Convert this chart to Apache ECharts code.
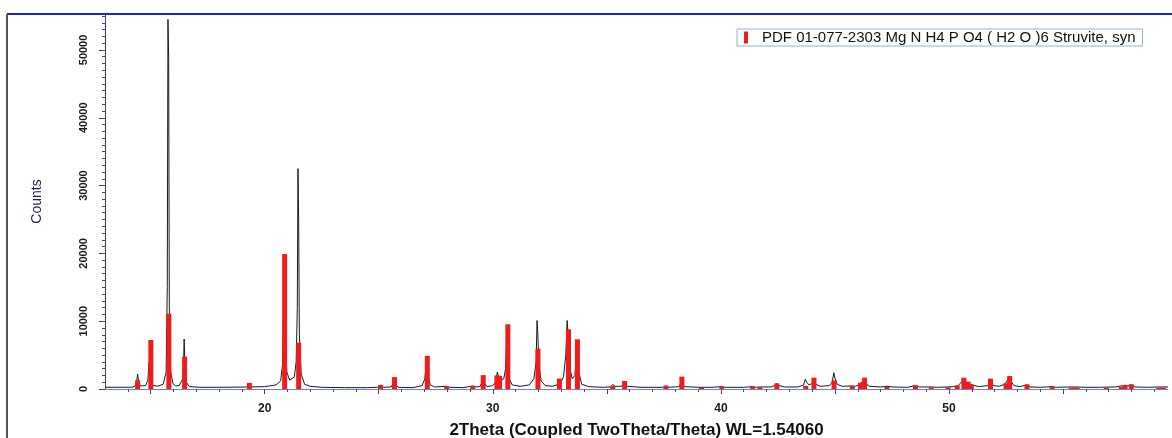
<!DOCTYPE html>
<html>
<head>
<meta charset="utf-8">
<script src="https://cdn.jsdelivr.net/npm/echarts@6/dist/echarts.min.js"></script>
<style>
  html, body { margin: 0; padding: 0; background: #ffffff; }
  #chart { width: 1172px; height: 438px; }
</style>
</head>
<body>
<div id="chart"></div>
<script>
// ---- Data ----
// Measured XRD pattern (2Theta in degrees, counts)
const measuredPattern = [
  [13.0, 260], [13.6, 250], [14.2, 260],
  [14.32, 450], [14.39, 1100], [14.43, 2200], [14.47, 1100], [14.55, 450],
  [14.78, 500], [14.88, 1300], [14.93, 3900], [14.97, 1800], [15.05, 600], [15.3, 400], [15.55, 700],
  [15.68, 2500], [15.73, 15000], [15.76, 54500], [15.79, 49000], [15.82, 12000], [15.88, 2500], [15.98, 800], [16.1, 450], [16.25, 500],
  [16.32, 500], [16.41, 1500], [16.45, 4500], [16.47, 7370], [16.50, 4000], [16.56, 1000], [16.7, 350], [17.2, 250], [18.0, 250], [19.0, 280],
  [19.25, 300], [19.33, 450], [19.42, 300], [20.0, 350], [20.5, 600],
  [20.7, 1200], [20.78, 3500], [20.83, 12000], [20.86, 17000], [20.9, 8000], [20.97, 2500], [21.1, 1300], [21.3, 1800],
  [21.38, 4000], [21.43, 12000], [21.46, 32500], [21.49, 25000], [21.52, 8000], [21.6, 2200], [21.75, 700], [22.0, 400], [22.5, 250], [23.5, 200], [24.5, 200],
  [24.95, 250], [25.08, 550], [25.2, 250],
  [25.55, 300], [25.65, 900], [25.69, 1400], [25.74, 700], [25.85, 250], [26.5, 200],
  [26.9, 500], [27.02, 1500], [27.09, 3800], [27.12, 4300], [27.16, 2000], [27.26, 600], [27.45, 300],
  [27.98, 400], [28.1, 250], [28.7, 200], [29.12, 450], [29.3, 300],
  [29.45, 400], [29.55, 1200], [29.58, 1800], [29.63, 900], [29.75, 350], [30.0, 500],
  [30.12, 1000], [30.2, 2500], [30.25, 1800], [30.35, 1300], [30.48, 1500],
  [30.56, 3000], [30.62, 8000], [30.66, 6000], [30.72, 1500], [30.85, 600], [31.2, 400], [31.6, 600],
  [31.8, 1500], [31.9, 4000], [31.94, 10100], [31.97, 8500], [32.02, 3500], [32.12, 1200], [32.3, 500], [32.6, 400],
  [32.82, 600], [32.9, 1200], [32.96, 800], [33.1, 1800],
  [33.2, 5000], [33.26, 10100], [33.3, 8000], [33.36, 3500], [33.48, 1500], [33.6, 2000], [33.68, 5500], [33.72, 6000], [33.77, 2500], [33.9, 700], [34.2, 350], [34.8, 250],
  [35.15, 300], [35.26, 650], [35.36, 400],
  [35.65, 400], [35.75, 900], [35.8, 1000], [35.9, 400], [36.5, 250],
  [37.45, 250], [37.59, 450], [37.72, 250],
  [38.18, 350], [38.27, 1100], [38.31, 1200], [38.4, 350], [39.0, 250], [39.6, 250],
  [40.04, 350], [40.2, 250], [41.0, 250], [41.39, 350], [41.55, 250], [41.71, 300], [42.2, 300],
  [42.35, 500], [42.45, 800], [42.55, 500], [42.8, 300], [43.4, 300],
  [43.62, 600], [43.7, 1430], [43.76, 1000], [43.86, 600], [44.0, 800], [44.08, 1200], [44.16, 700], [44.35, 400], [44.75, 500],
  [44.88, 1000], [44.95, 2400], [45.0, 1600], [45.1, 700], [45.3, 400],
  [45.76, 450], [45.9, 400], [46.1, 700], [46.22, 1200], [46.32, 900], [46.5, 400], [47.0, 300], [47.28, 400], [47.5, 300],
  [48.2, 250], [48.53, 500], [48.7, 300], [49.22, 300], [49.5, 250], [49.96, 300], [50.2, 350],
  [50.4, 500], [50.6, 1200], [50.7, 1100], [50.85, 800], [51.0, 600], [51.3, 350],
  [51.7, 500], [51.82, 1200], [51.95, 500], [52.2, 400], [52.45, 700], [52.6, 1500], [52.7, 1200], [52.85, 500], [53.1, 350],
  [53.42, 600], [53.55, 300], [54.0, 250], [54.52, 350], [54.7, 250], [55.3, 300], [55.6, 300], [56.0, 250], [56.6, 250],
  [57.3, 300], [57.72, 550], [57.85, 450], [57.99, 650], [58.15, 300], [58.7, 250], [59.2, 300], [59.6, 300]
];

// Reference pattern PDF 01-077-2303 (2Theta, intensity)
const referencePeaks = [
  [14.43, 1300], [15.01, 7230], [15.80, 11100], [16.49, 4770], [19.33, 900],
  [20.875, 19900], [21.49, 6800], [25.08, 600], [25.69, 1750], [27.13, 4900],
  [27.98, 400], [29.12, 400], [29.58, 2050], [30.18, 2000], [30.30, 1950],
  [30.66, 9540], [31.98, 5950], [32.92, 1530], [33.32, 8800], [33.71, 7330],
  [35.26, 450], [35.78, 1180], [37.59, 490], [38.29, 1820], [39.15, 150],
  [40.04, 340], [41.39, 300], [41.71, 250], [42.45, 840], [43.72, 440],
  [44.08, 1670], [44.96, 1280], [45.76, 440], [46.12, 930], [46.30, 1670],
  [47.28, 300], [48.53, 540], [49.22, 250], [49.96, 250], [50.36, 540],
  [50.65, 1670], [50.84, 1080], [50.98, 690], [51.82, 1530], [52.50, 840],
  [52.66, 1920], [53.42, 690], [54.52, 300], [55.35, 200], [55.5, 200],
  [55.62, 200], [56.9, 150], [57.55, 300], [57.72, 590], [57.99, 690],
  [59.2, 200], [59.4, 200]
];

const referenceName = 'PDF 01-077-2303 Mg N H4 P O4 ( H2 O )6 Struvite, syn';
const xTitle = '2Theta (Coupled TwoTheta/Theta) WL=1.54060';
const yTitle = 'Counts';

const xRange = [13, 59.6];
const yRange = [0, 55300];
const xLabelValues = [20, 30, 40, 50];
const xMajorTickValues = [15, 20, 25, 30, 35, 40, 45, 50, 55];
const yLabelValues = [0, 10000, 20000, 30000, 40000, 50000];

// minor tick positions
const xMinorTickValues = [];
for (let v = 14; v <= 59; v++) xMinorTickValues.push(v);
const yMinorTickValues = [];
for (let v = 0; v <= 55000; v += 1000) yMinorTickValues.push(v);

const FONT = 'Liberation Sans, Arial, sans-serif';

const chart = echarts.init(document.getElementById('chart'), null, { renderer: 'canvas' });
chart.setOption({
  animation: false,
  backgroundColor: '#ffffff',
  grid: { left: 105, right: 4, top: 14, bottom: 49, containLabel: false, outerBoundsMode: 'none' },
  legend: {
    data: [referenceName],
    left: 737, top: 29,
    icon: 'rect', itemWidth: 4, itemHeight: 12, itemGap: 0,
    padding: [1, 7, 1, 7],
    borderColor: '#8cb4d8', borderWidth: 1,
    textStyle: { fontFamily: FONT, fontSize: 15, color: '#111', padding: [0, 0, 0, 9] }
  },
  xAxis: [
    {
      type: 'value', min: xRange[0], max: xRange[1], position: 'bottom',
      axisLine: { show: true, lineStyle: { color: '#6a86c8', width: 1 } },
      axisTick: { show: true, customValues: xMajorTickValues, length: 5, lineStyle: { color: '#2a3a90' } },
      axisLabel: { customValues: xLabelValues, fontFamily: FONT, fontSize: 12, fontWeight: 'bold', color: '#1a1a1a', margin: 14 },
      splitLine: { show: false },
      name: xTitle, nameLocation: 'middle', nameGap: 33,
      nameTextStyle: { fontFamily: FONT, fontSize: 17, fontWeight: 'bold', color: '#111' }
    },
    {
      type: 'value', min: xRange[0], max: xRange[1], position: 'bottom',
      axisLine: { show: false },
      axisTick: { show: true, customValues: xMinorTickValues, length: 3, lineStyle: { color: '#3a4aa0' } },
      axisLabel: { show: false },
      splitLine: { show: false }
    }
  ],
  yAxis: [
    {
      type: 'value', min: yRange[0], max: yRange[1], position: 'left',
      axisLine: { show: true, lineStyle: { color: '#444', width: 1 } },
      axisTick: { show: true, customValues: yLabelValues, length: 6, lineStyle: { color: '#2a3a90' } },
      axisLabel: {
        customValues: yLabelValues, rotate: 90, fontFamily: FONT, fontSize: 11, fontWeight: 'bold',
        color: '#1a1a1a', margin: 16, formatter: function (v) { return String(v); }
      },
      splitLine: { show: false },
      name: yTitle, nameLocation: 'middle', nameGap: 61,
      nameTextStyle: { fontFamily: FONT, fontSize: 14, color: '#1a1a60' }
    },
    {
      type: 'value', min: yRange[0], max: yRange[1], position: 'left',
      axisLine: { show: false },
      axisTick: { show: true, customValues: yMinorTickValues, length: 3, lineStyle: { color: '#3a4aa0' } },
      axisLabel: { show: false },
      splitLine: { show: false }
    }
  ],
  graphic: [
    { type: 'line', shape: { x1: 7, y1: 14, x2: 1172, y2: 14 }, style: { stroke: '#2020d8', lineWidth: 2 }, z: 10 },
    { type: 'line', shape: { x1: 7, y1: 14, x2: 7, y2: 438 }, style: { stroke: '#555', lineWidth: 2 }, z: 10 }
  ],
  series: [
    {
      name: 'Measured', type: 'line', xAxisIndex: 0, yAxisIndex: 0,
      data: measuredPattern, showSymbol: false, symbol: 'none',
      lineStyle: { color: '#1a1a1a', width: 1 }, itemStyle: { color: '#1a1a1a' }, z: 2
    },
    {
      name: referenceName, type: 'bar', xAxisIndex: 0, yAxisIndex: 0,
      data: referencePeaks, barWidth: 5,
      itemStyle: { color: '#f01c1c' }, z: 3
    }
  ]
});
</script>
</body>
</html>
